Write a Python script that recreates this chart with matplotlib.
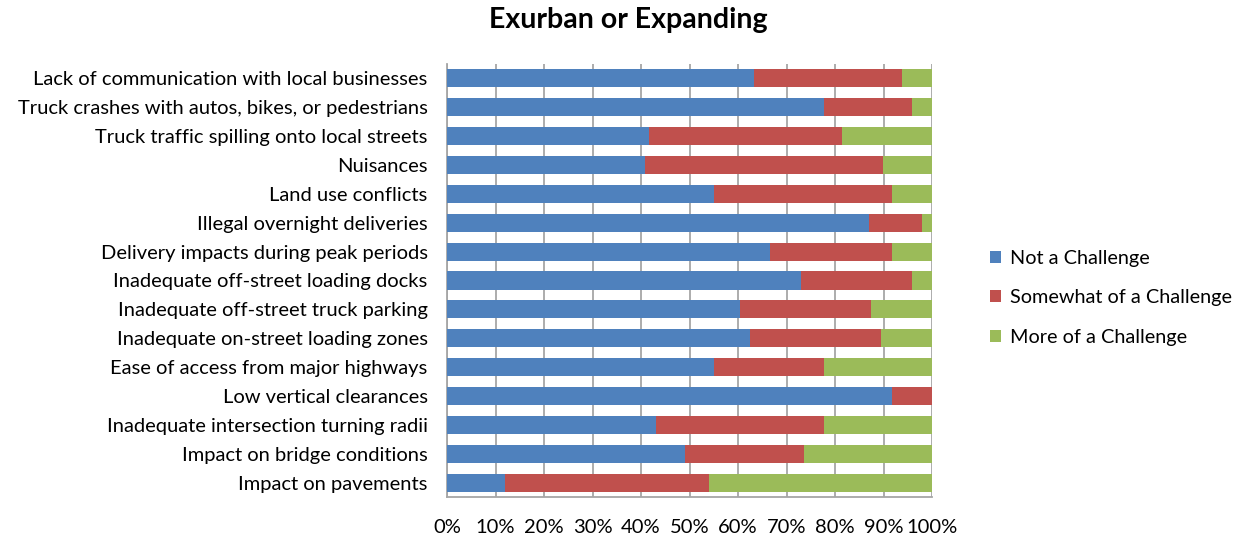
import matplotlib
matplotlib.use("Agg")
import matplotlib.pyplot as plt
import numpy as np

categories = [
    "Lack of communication with local businesses",
    "Truck crashes with autos, bikes, or pedestrians",
    "Truck traffic spilling onto local streets",
    "Nuisances",
    "Land use conflicts",
    "Illegal overnight deliveries",
    "Delivery impacts during peak periods",
    "Inadequate off-street loading docks",
    "Inadequate off-street truck parking",
    "Inadequate on-street loading zones",
    "Ease of access from major highways",
    "Low vertical clearances",
    "Inadequate intersection turning radii",
    "Impact on bridge conditions",
    "Impact on pavements",
]

not_challenge = [63.2, 77.7, 41.6, 40.9, 55.0, 87.1, 66.5, 73.0, 60.5, 62.5, 55.0, 91.8, 43.0, 49.0, 12.0]
somewhat_challenge = [30.6, 18.2, 39.8, 48.9, 36.8, 10.8, 25.3, 22.9, 27.0, 27.0, 22.7, 8.2, 34.7, 24.6, 42.1]
more_challenge = [6.2, 4.1, 18.6, 10.2, 8.2, 2.1, 8.2, 4.1, 12.5, 10.5, 22.3, 0.0, 22.3, 26.4, 45.9]

series_names = ["Not a Challenge", "Somewhat of a Challenge", "More of a Challenge"]
colors = ["#4F81BD", "#C0504D", "#9BBB59"]
x_ticks = list(range(0, 101, 10))
x_tick_labels = [f"{t}%" for t in x_ticks]

W, H = 1238, 540
fig = plt.figure(figsize=(W / 100, H / 100), dpi=100)
fig.patch.set_facecolor("white")

font = "Lato"
label_size = 14.5
ax = fig.add_axes([447 / W, (H - 497) / H, (932 - 447) / W, (497 - 64) / H])

y = np.arange(len(categories))
left = np.zeros(len(categories))
handles = []
for vals, name, col in zip([not_challenge, somewhat_challenge, more_challenge], series_names, colors):
    vals = np.array(vals)
    b = ax.barh(y, vals, left=left, height=0.625, color=col, label=name, zorder=3)
    handles.append(b)
    left = left + vals

ax.set_xlim(0, 100)
ax.set_ylim(len(categories) - 0.5, -0.5)
ax.set_xticks(x_ticks)
ax.set_xticklabels(x_tick_labels, family=font, fontsize=label_size, color="#000000")
ax.set_yticks(y)
ax.set_yticklabels(categories, family=font, fontsize=label_size, color="#000000")
ax.tick_params(axis="y", length=0, pad=14)
ax.tick_params(axis="x", length=0, pad=15.5)

ax.grid(axis="x", color="#A6A6A6", linewidth=1.3, zorder=0)
for side in ["top", "right"]:
    ax.spines[side].set_visible(False)
for side in ["left", "bottom"]:
    ax.spines[side].set_color("#A6A6A6")
    ax.spines[side].set_linewidth(1.3)

fig.text(628 / W, 1 - 20 / H, "Exurban or Expanding", ha="center", va="center",
         family=font, fontweight="bold", fontsize=20.5, color="#000000")

leg = fig.legend(handles=handles, labels=series_names, loc="center left",
                 bbox_to_anchor=(972 / W, 1 - 298 / H), frameon=False,
                 prop={"family": font, "size": 14.3}, handlelength=0.55, handleheight=0.55,
                 handletextpad=0.45, labelspacing=1.15)

fig.savefig("out.png", dpi=100, facecolor="white")
